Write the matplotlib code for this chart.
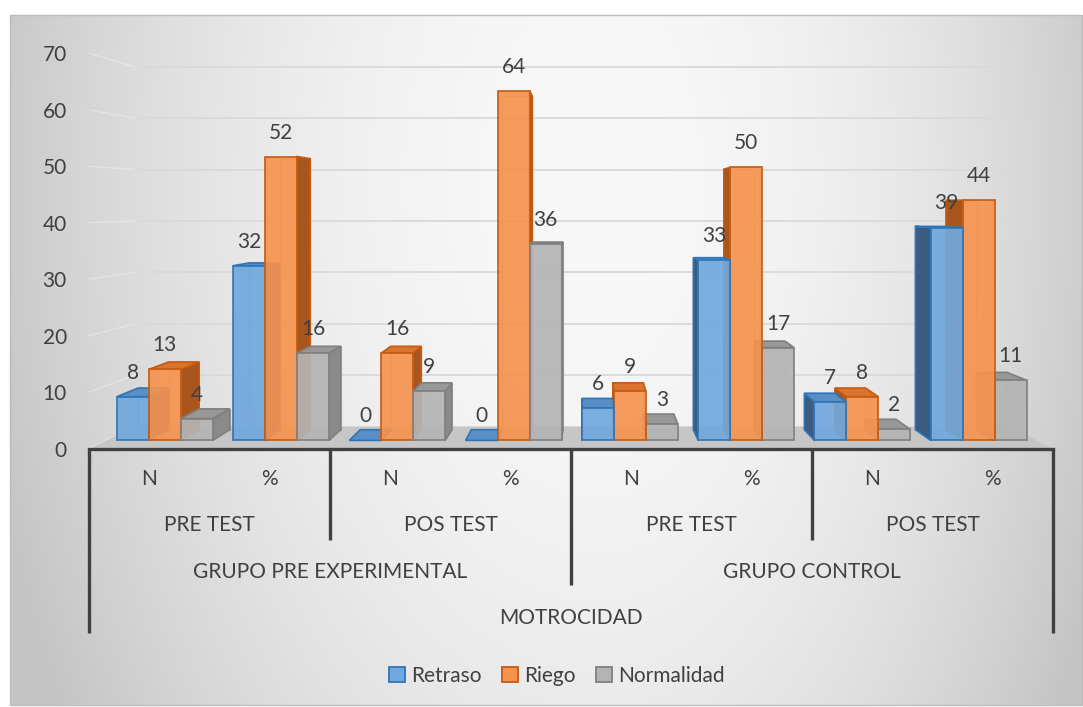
import numpy as np
import matplotlib.pyplot as plt
from matplotlib.patches import Polygon, Patch, Rectangle

plt.rcParams['font.family'] = ['Lato', 'DejaVu Sans']

# data
series = ["Retraso", "Riego", "Normalidad"]
level1 = ["N", "%", "N", "%", "N", "%", "N", "%"]
level2 = ["PRE TEST", "POS TEST", "PRE TEST", "POS TEST"]
level3 = ["GRUPO PRE EXPERIMENTAL", "GRUPO CONTROL"]
level4 = ["MOTROCIDAD"]
retraso = [8, 32, 0, 0, 6, 33, 7, 39]
riego = [13, 52, 16, 64, 9, 50, 8, 44]
normalidad = [4, 16, 9, 36, 3, 17, 2, 11]
yticks = [0, 10, 20, 30, 40, 50, 60, 70]

# styles: front, edge, side, top
styles = [
    ("#70A8DD", "#2E75B6", "#3B5B80", "#5A8FC6"),
    ("#F5934F", "#C55A11", "#A9561E", "#D9732E"),
    ("#B4B4B4", "#7F7F7F", "#8A8A8A", "#989898"),
]
TXT = "#404040"
FS = 15

W, H = 1083, 707
PXU = 120.5    # px per category
PYU = 5.657    # px per value unit

fig = plt.figure(figsize=(W / 100, H / 100), dpi=100)

# background gradient of the chart area
bg = fig.add_axes([0, 0, 1, 1])
bg.set_xlim(0, W)
bg.set_ylim(H, 0)
bg.axis("off")
gx, gy = np.meshgrid(np.arange(10, 1083), np.arange(15, 706))
rx = np.where(gx < 600, (gx - 600) / 590.0, (gx - 600) / 500.0)
ry = (gy - 180) / 950.0
val = 248 - 45 * (rx ** 2 + ry ** 2)
val = np.clip(val, 196, 250) / 255.0
bg.imshow(np.dstack([val, val, val]), extent=(10, 1083, 706, 15), aspect="auto",
          interpolation="bilinear")
bg.add_patch(Rectangle((10, 15), 1072, 690, fill=False, ec="#bcbcbc", lw=1))

ax = fig.add_axes([89 / W, (H - 449) / H, 964 / W, 419 / H])
ax.set_xlim(0, 8)
ax.set_ylim(0, 419 / PYU)
ax.patch.set_visible(False)
for s in ax.spines.values():
    s.set_visible(False)
ax.set_xticks([])
ax.set_yticks(yticks)
ax.tick_params(axis="y", length=0, pad=16, labelsize=FS, labelcolor=TXT)

VPX, VPY = 4.166, 43.4
S_FRONT = 0.965
S_WALL = 0.91
K = 0.045


def proj(x, y, s):
    return VPX + s * (x - VPX), VPY + s * (y - VPY)


def back(x, y):
    return x + K * (VPX - x), y + K * (VPY - y)


# back wall gridlines and floor
wl, _ = proj(0, 0, S_WALL)
wr, wy0 = proj(8, 0, S_WALL)
for v in yticks:
    _, wy = proj(0, v, S_WALL)
    ax.plot([wl, wr], [wy, wy], color="#d9d9d9", lw=1.3, zorder=1)
    ax.plot([-0.01, wl], [v, wy], color="white", lw=1, alpha=0.3, zorder=1)
ax.add_patch(Polygon([(0, 0), (8, 0), (wr, wy0), (wl, wy0)], closed=True,
                     fc="#c6c6c6", ec="none", zorder=1))

# bars
BW = 0.275
bars = []
for j, vals in enumerate([retraso, riego, normalidad]):
    for i, v in enumerate(vals):
        cx = i + 0.5 + (j - 1) * BW
        xl, yb = proj(cx - BW / 2, 0, S_FRONT)
        xr, yt = proj(cx + BW / 2, v, S_FRONT)
        bars.append((abs((xl + xr) / 2 - VPX), j, v, xl, xr, yb, yt))
bars.sort(key=lambda b: -b[0])

z = 2
for _, j, v, xl, xr, yb, yt in bars:
    fc, ec, sc, tc = styles[j]
    bxl, byb = back(xl, yb)
    bxr, byt = back(xr, yt)
    # back outline (seen through the glassy front)
    ax.plot([bxl, bxl, bxr, bxr], [byb, byt, byt, byb], color=ec, lw=0.8,
            alpha=0.5, zorder=z)
    if xr < VPX:
        side = [(xr, yb), (xr, yt), (bxr, byt), (bxr, byb)]
    else:
        side = [(xl, yb), (xl, yt), (bxl, byt), (bxl, byb)]
    ax.add_patch(Polygon(side, closed=True, fc=sc, ec=ec, lw=1.2, zorder=z))
    if byt > yt:
        top = [(xl, yt), (xr, yt), (bxr, byt), (bxl, byt)]
        ax.add_patch(Polygon(top, closed=True, fc=tc, ec=ec, lw=1.2, zorder=z))
    if yt > yb:
        ax.add_patch(Rectangle((xl, yb), xr - xl, yt - yb, fc=fc, ec=ec, lw=1.3,
                               alpha=0.92, zorder=z + 0.5))
    ax.annotate(str(v), ((xl + xr) / 2, yt), xytext=(0, 17.3),
                textcoords="offset points", ha="center", va="center",
                fontsize=FS, color=TXT, zorder=50)
    z += 1

# multi-level category axis
def py(px):
    return -px / PYU

ax.plot([0, 8], [0, 0], color=TXT, lw=2.4, clip_on=False, zorder=60)
for x, depth in [(0, 184), (2, 91), (4, 136), (6, 91), (8, 184)]:
    ax.plot([x, x], [0, py(depth)], color=TXT, lw=2.4, clip_on=False, zorder=60,
            solid_capstyle="butt")
for i, lab in enumerate(level1):
    ax.text(i + 0.5, py(30), lab, ha="center", va="center", fontsize=FS, color=TXT)
for i, lab in enumerate(level2):
    ax.text(2 * i + 1, py(76), lab, ha="center", va="center", fontsize=FS, color=TXT)
for i, lab in enumerate(level3):
    ax.text(4 * i + 2, py(123), lab, ha="center", va="center", fontsize=FS, color=TXT)
ax.text(4, py(169), level4[0], ha="center", va="center", fontsize=FS, color=TXT)

handles = [Patch(fc=s[0], ec=s[1], lw=1.3) for s in styles]
fig.legend(handles, series, loc="center", bbox_to_anchor=(557 / W, 1 - 676 / H),
           ncol=3, frameon=False, fontsize=FS, handlelength=0.75, handleheight=0.75,
           handletextpad=0.3, columnspacing=1.0, labelcolor=TXT)

fig.savefig("out.png", dpi=100)
